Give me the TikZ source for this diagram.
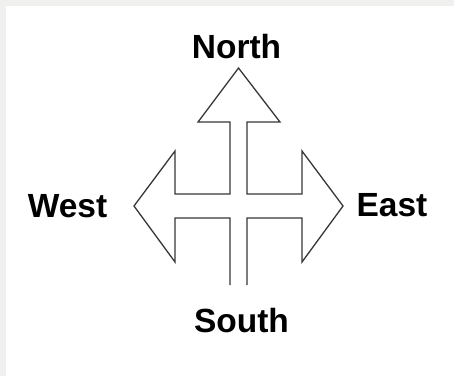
\documentclass[tikz,border=0pt]{standalone}
\usepackage{fontspec}
\setmainfont{Liberation Sans}
\definecolor{framegray}{RGB}{240,240,238}
\definecolor{linegray}{RGB}{55,55,55}

\begin{document}
\begin{tikzpicture}[x=1pt, y=-1pt,
    dirlabel/.style={font=\fontsize{33.5}{38}\selectfont\bfseries, anchor=base, inner sep=0pt}]
    % Background and frame
    \fill[framegray] (0,0) rectangle (454,376);
    \fill[white] (6,6) rectangle (454,376);
    \useasboundingbox (0,0) rectangle (454,376);

    % Four-way arrow outline (open at the south end)
    \draw[linegray, line width=1.3pt, line join=miter]
        (230,285) -- (230,218) -- (175,218) -- (175,262) -- (134,206)
        -- (175,151) -- (175,194) -- (230,194) -- (230,122) -- (198,122)
        -- (238.5,68) -- (280,122) -- (247,122) -- (247,194) -- (302,194)
        -- (302,151) -- (343,206) -- (302,262) -- (302,218) -- (247,218)
        -- (247,285);

    % Labels
    \node[dirlabel] (north) at (236.5,58) {North};
    \node[dirlabel] (west) at (67.5,217) {West};
    \node[dirlabel] (east) at (392,216) {East};
    \node[dirlabel] (south) at (241.5,332) {South};
\end{tikzpicture}
\end{document}
